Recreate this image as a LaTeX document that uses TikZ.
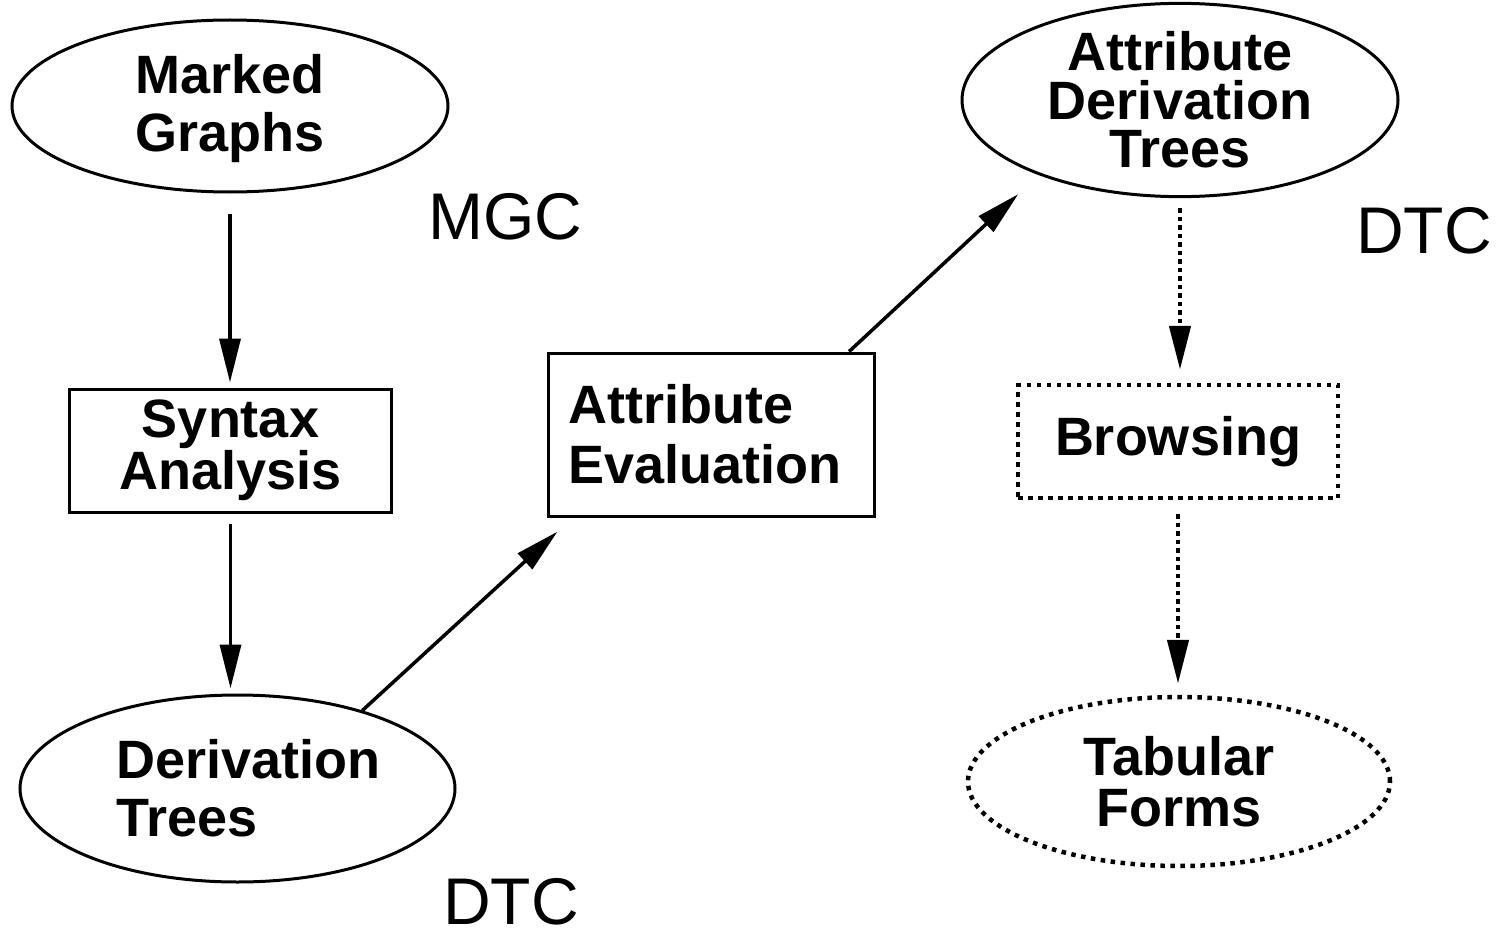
\documentclass[tikz,border=0pt]{standalone}
\usepackage{fontspec}
\setmainfont{Liberation Sans}
\usetikzlibrary{arrows.meta,shapes.geometric}
\begin{document}
\begin{tikzpicture}[x=1pt,y=-1pt,
  lbl/.style={font=\fontsize{54}{58}\selectfont\bfseries, align=center, inner sep=0pt},
  shapeoval/.style={ellipse, draw, line width=3pt, lbl},
  shapebox/.style={rectangle, draw, line width=3pt, lbl},
  dotshape/.style={line width=4.5pt, dash pattern=on 4.5pt off 5.5pt},
  dotline/.style={line width=4.5pt, dash pattern=on 4.5pt off 4pt},
  arrowline/.style={line width=3.5pt, -{Triangle[length=44pt,width=21pt]}},
  sidetag/.style={font=\fontsize{66}{70}\selectfont, inner sep=0pt, anchor=base west}
]
\path[use as bounding box] (0,0) rectangle (1505,931);

\node[shapeoval, minimum width=436pt, minimum height=172pt] (mg) at (230,106) {\rule{0pt}{45pt}Marked\\Graphs};
\node[shapebox, font=\fontsize{54}{52}\selectfont\bfseries, minimum width=322pt, minimum height=123pt] (sa) at (230.5,450.5) {Syntax\\Analysis};
\node[shapeoval, align=left, minimum width=435pt, minimum height=187pt] (dt) at (237.5,788.5) {\hspace*{22pt}Derivation\\\hspace*{22pt}Trees};
\node[shapebox, align=left, font=\fontsize{54}{60}\selectfont\bfseries, minimum width=326pt, minimum height=163pt] (ae) at (711,434.5) {Attribute\\Evaluation\hspace*{12pt}};
\node[shapeoval, font=\fontsize{54}{48.5}\selectfont\bfseries, minimum width=436pt, minimum height=180pt] (adt) at (1180,100) {Attribute\\Derivation\\Trees};
\node[shapebox, dotshape, minimum width=320pt, minimum height=113pt] (br) at (1178,441.5) {Browsing};
\node[shapeoval, dotshape, font=\fontsize{54}{51}\selectfont\bfseries, minimum width=422pt, minimum height=169pt] (tf) at (1179,781.5) {Tabular\\Forms};

\node[sidetag] (mgc) at (428,239) {MGC};
\node[sidetag] (dtc1) at (443,924) {DTC};
\node[sidetag] (dtc2) at (1356,253) {DTC};

\draw[arrowline, shorten <=20pt, shorten >=5pt] (mg.south) -- (mg.south |- sa.north);
\draw[arrowline, shorten <=10pt, shorten >=5pt] (sa.south) -- (sa.south |- dt.north);
\draw[arrowline, shorten >=21pt] (dt.32.4) -- (ae.211);
\draw[arrowline, shorten >=28pt] (ae.31.1) -- (adt.208.3);
\draw[arrowline, dotline, shorten <=10pt, shorten >=13pt] (adt.south) -- (adt.south |- br.north);
\draw[arrowline, dotline, shorten <=14pt, shorten >=11pt] (br.south) -- (br.south |- tf.north);
\end{tikzpicture}
\end{document}
